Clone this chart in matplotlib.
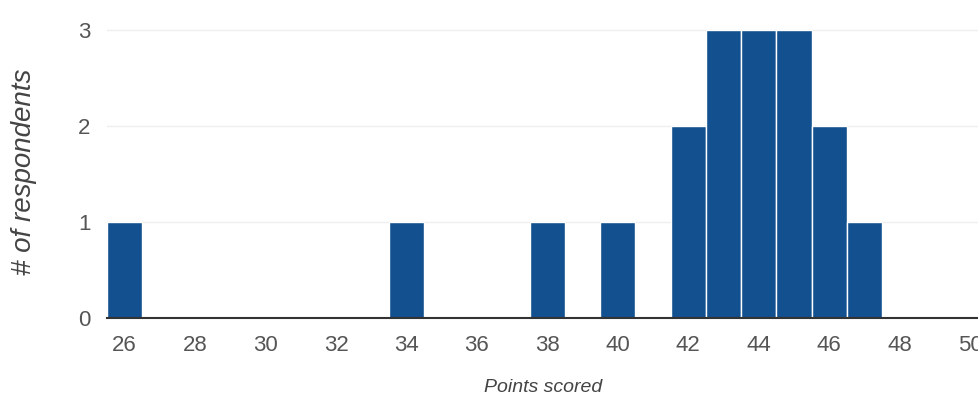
import matplotlib
matplotlib.use("Agg")
import matplotlib.pyplot as plt

points = [26, 34, 38, 40, 42, 43, 44, 45, 46, 47]
respondents = [1, 1, 1, 1, 2, 3, 3, 3, 2, 1]
xticks = [26, 28, 30, 32, 34, 36, 38, 40, 42, 44, 46, 48, 50]
yticks = [0, 1, 2, 3]

plt.rcParams['font.family'] = ['Liberation Sans', 'DejaVu Sans']

fig = plt.figure(figsize=(9.79, 4.0), dpi=100)
ax = fig.add_axes([107/979, 82/400, 872/979, 318/400])

ax.bar(points, respondents, width=1.0, color='#12508f', edgecolor='white', linewidth=1.0, zorder=3)

ax.set_xlim(25.5, 50.25)
ax.set_ylim(0, 3.31)
ax.set_xticks(xticks)
ax.set_yticks(yticks)
ax.tick_params(axis='both', length=0, labelsize=16, labelcolor='#555555')
ax.tick_params(axis='x', pad=12)
ax.tick_params(axis='y', pad=12)
for lab in ax.get_xticklabels():
    lab.set_clip_on(False)

ax.grid(axis='y', color='#efefef', linewidth=1.0, zorder=0)
for s in ['top', 'right', 'left']:
    ax.spines[s].set_visible(False)
ax.spines['bottom'].set_color('#333333')
ax.spines['bottom'].set_linewidth(1.5)
ax.spines['bottom'].set_zorder(4)

ax.set_xlabel('Points scored', fontsize=14, style='italic', color='#444444', labelpad=17)
ax.set_ylabel('# of respondents', fontsize=20, style='italic', color='#444444')
ax.yaxis.set_label_coords(-0.080, 0.459)

fig.savefig('out.png', dpi=100)
